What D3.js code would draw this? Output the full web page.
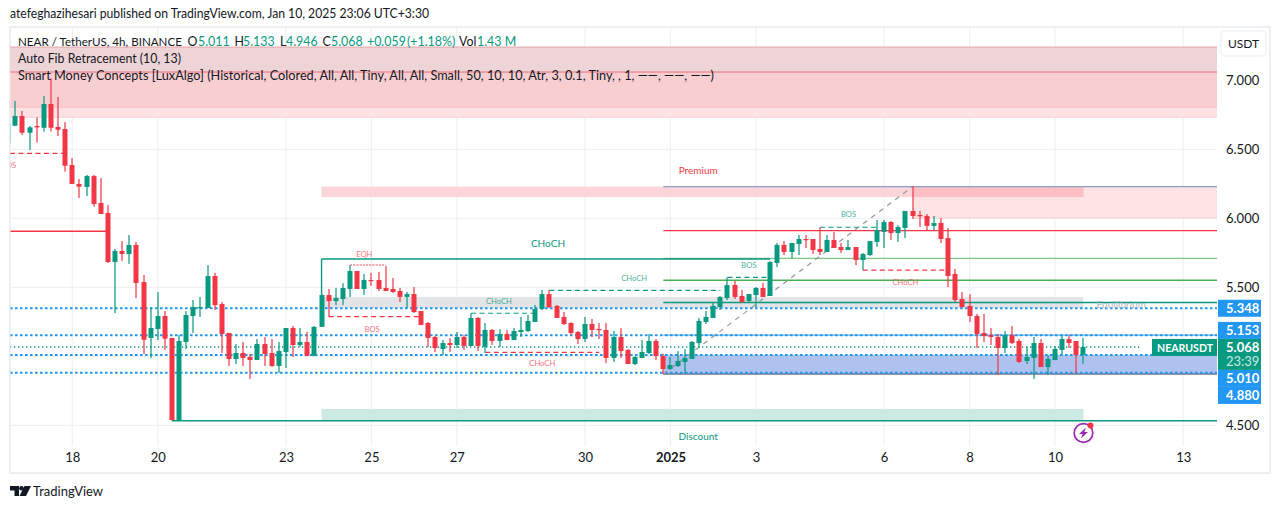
<!DOCTYPE html>
<html>
<head>
<meta charset="utf-8">
<title>NEARUSDT 4h</title>
<script src="https://cdn.jsdelivr.net/npm/d3@7"></script>
<style>
  html, body { margin: 0; padding: 0; background: #fff; }
  svg { display: block; }
  text { font-family: Lato, "Noto Sans", sans-serif; fill: #131722; }
  .domain { display: none; }
  .tick line { display: none; }
</style>
</head>
<body>
<div id="chart"></div>
<script>
// first candle in the arrays sits 9 bars before the 18 Dec tick
const firstBar = -9
const barOpen = [6.545, 6.671, 6.741, 6.62, 6.669, 6.656, 6.828, 6.662, 6.647,
  6.386, 6.249, 6.227, 6.306, 6.111, 6.038, 5.683, 5.763, 5.741, 5.807,
  5.538, 5.133, 5.198, 5.292, 5.133, 4.538, 5.104, 5.292, 5.35, 5.35,
  5.582, 5.379, 5.169, 4.98, 5.024, 4.995, 4.973, 5.089, 5.024, 4.93,
  5.031, 5.205, 5.082, 5.104, 5.004, 5.213, 5.444, 5.4, 5.415, 5.488,
  5.618, 5.488, 5.553, 5.553, 5.495, 5.488, 5.473, 5.43, 5.451, 5.328,
  5.241, 5.14, 5.053, 5.096, 5.082, 5.14, 5.075, 5.278, 5.068, 5.191,
  5.111, 5.162, 5.118, 5.176, 5.183, 5.249, 5.343, 5.451, 5.365, 5.285,
  5.241, 5.176, 5.125, 5.234, 5.198, 5.191, 4.988, 5.14, 5.046, 4.944,
  4.988, 5.024, 5.111, 5.002, 4.908, 4.93, 4.959, 4.981, 5.096, 5.249,
  5.278, 5.357, 5.422, 5.517, 5.437, 5.4, 5.444, 5.495, 5.437, 5.676,
  5.807, 5.756, 5.814, 5.85, 5.85, 5.778, 5.756, 5.843, 5.792, 5.77,
  5.792, 5.698, 5.734, 5.829, 5.901, 5.973, 5.893, 5.93, 6.053, 6.024,
  6.017, 5.945, 5.966, 5.857, 5.597, 5.415, 5.365, 5.292, 5.169, 5.154,
  5.14, 5.06, 5.154, 5.111, 4.966, 4.988, 5.096, 4.922, 4.973, 5.046,
  5.125, 5.111, 5.011]
const barHigh = [6.683, 6.85, 6.778, 6.669, 6.732, 6.886, 7.014, 6.879, 6.698,
  6.437, 6.285, 6.314, 6.314, 6.292, 6.096, 5.778, 5.835, 5.879, 5.828,
  5.589, 5.357, 5.466, 5.328, 5.133, 5.154, 5.328, 5.408, 5.43, 5.661,
  5.604, 5.393, 5.169, 5.089, 5.104, 5.017, 5.125, 5.14, 5.125, 5.104,
  5.205, 5.22, 5.205, 5.176, 5.22, 5.45, 5.488, 5.495, 5.53, 5.661,
  5.618, 5.596, 5.604, 5.611, 5.654, 5.567, 5.495, 5.466, 5.502, 5.328,
  5.248, 5.148, 5.118, 5.133, 5.176, 5.154, 5.312, 5.285, 5.241, 5.198,
  5.198, 5.191, 5.205, 5.285, 5.3, 5.372, 5.481, 5.481, 5.372, 5.321,
  5.248, 5.183, 5.285, 5.27, 5.241, 5.241, 5.183, 5.205, 5.053, 5.002,
  5.118, 5.162, 5.125, 5.02, 4.995, 5.038, 5.053, 5.111, 5.278, 5.328,
  5.386, 5.437, 5.572, 5.546, 5.481, 5.451, 5.502, 5.531, 5.69, 5.821,
  5.835, 5.821, 5.879, 5.879, 5.85, 5.935, 5.879, 5.9, 5.821, 5.843,
  5.792, 5.749, 5.835, 5.988, 5.988, 5.98, 5.951, 6.053, 6.234, 6.053,
  6.031, 6.017, 6.002, 5.93, 5.633, 5.466, 5.451, 5.307, 5.307, 5.205,
  5.162, 5.183, 5.22, 5.125, 5.067, 5.14, 5.125, 5.01, 5.075, 5.154,
  5.154, 5.111, 5.133]
const barLow = [6.545, 6.668, 6.604, 6.495, 6.548, 6.628, 6.628, 6.596, 6.338,
  6.249, 6.147, 6.162, 6.084, 6.031, 5.676, 5.314, 5.691, 5.67, 5.422,
  5.017, 4.988, 5.118, 5.046, 4.535, 4.535, 5.053, 5.169, 5.285, 5.35,
  5.336, 5.024, 4.93, 4.944, 4.93, 4.836, 4.973, 4.93, 4.922, 4.879,
  4.915, 4.995, 5.067, 5.0, 5.0, 5.213, 5.287, 5.371, 5.371, 5.43,
  5.488, 5.444, 5.51, 5.473, 5.473, 5.459, 5.393, 5.35, 5.314, 5.227,
  5.067, 5.031, 5.01, 5.031, 5.06, 5.046, 5.075, 5.038, 5.024, 5.082,
  5.067, 5.118, 5.118, 5.14, 5.176, 5.249, 5.336, 5.35, 5.278, 5.227,
  5.154, 5.089, 5.104, 5.14, 5.125, 4.951, 4.959, 4.988, 4.944, 4.937,
  4.988, 5.017, 4.973, 4.872, 4.901, 4.922, 4.879, 4.981, 5.06, 5.234,
  5.278, 5.336, 5.408, 5.415, 5.386, 5.393, 5.357, 5.43, 5.437, 5.647,
  5.734, 5.712, 5.734, 5.785, 5.741, 5.734, 5.756, 5.785, 5.749, 5.77,
  5.661, 5.626, 5.727, 5.792, 5.785, 5.843, 5.829, 5.857, 5.995, 5.937,
  5.915, 5.915, 5.821, 5.502, 5.393, 5.35, 5.249, 5.06, 5.104, 5.082,
  4.865, 5.024, 5.089, 4.951, 4.944, 4.836, 4.922, 4.865, 4.973, 5.01,
  5.06, 4.879, 4.946]
const barClose = [6.683, 6.741, 6.62, 6.659, 6.659, 6.828, 6.656, 6.642, 6.381,
  6.249, 6.229, 6.306, 6.104, 6.031, 5.683, 5.763, 5.741, 5.807, 5.531,
  5.12, 5.205, 5.292, 5.128, 4.538, 5.111, 5.299, 5.357, 5.357, 5.582,
  5.371, 5.162, 4.98, 5.024, 4.988, 4.973, 5.089, 5.017, 4.93, 5.038,
  5.205, 5.082, 5.104, 5.004, 5.213, 5.444, 5.4, 5.422, 5.495, 5.618,
  5.488, 5.553, 5.546, 5.488, 5.473, 5.466, 5.43, 5.451, 5.321, 5.227,
  5.133, 5.06, 5.096, 5.082, 5.14, 5.075, 5.278, 5.075, 5.191, 5.111,
  5.162, 5.118, 5.183, 5.191, 5.256, 5.343, 5.451, 5.357, 5.278, 5.234,
  5.169, 5.125, 5.234, 5.191, 5.191, 4.988, 5.14, 5.038, 4.944, 4.995,
  5.031, 5.111, 5.002, 4.908, 4.937, 4.966, 4.988, 5.104, 5.256, 5.285,
  5.365, 5.43, 5.517, 5.43, 5.393, 5.451, 5.495, 5.43, 5.683, 5.807,
  5.756, 5.821, 5.85, 5.843, 5.77, 5.756, 5.843, 5.785, 5.77, 5.792,
  5.698, 5.741, 5.835, 5.915, 5.973, 5.893, 5.937, 6.053, 6.017, 6.017,
  5.945, 5.966, 5.85, 5.582, 5.408, 5.357, 5.292, 5.162, 5.147, 5.14,
  5.06, 5.154, 5.096, 4.959, 4.995, 5.096, 4.922, 4.981, 5.053, 5.125,
  5.096, 5.01, 5.068]

// time axis, bar numbers of the day ticks
const tickBars = [0, 12, 30, 42, 54, 72, 84, 96, 114, 126, 138, 156]
const tickLabels = ['18', '20', '23', '25', '27', '30', '2025', '3', '6', '8', '10', '13']
// price axis
const priceTicks = [7, 6.5, 6, 5.5, 4.5]
const gridPrices = [7, 6.5, 6, 5.5, 5, 4.5]
const lastPrice = 5.068
const blueLevels = [5.348, 5.153, 5.01, 4.88]
const rightEnd = 160.75
const leftEnd = -8.75

// fib band at the top: bottom prices of the three layers
const topBandTop = 7.241
const topBandBottoms = [6.732, 6.806]
const topBandGrey = 7.06

// smart money boxes: bar from, bar to, price top, price bottom
const premiumBox = [35, 142, 6.23, 6.154]
const premiumDarkBox = [118, 142, 6.23, 6.154]
const premiumFibBox = [118, rightEnd, 6.23, 6.002]
const equilibriumBox = [35, 142, 5.43, 5.35]
const discountBox = [35, 142, 4.618, 4.538]
const discountFibBox = [83, rightEnd, 5.01, 4.872]

// solid lines: bar from, bar to, price
const redLines = [[leftEnd, 5, 5.906], [83, rightEnd, 5.91]]
const tealLines = [[35, 98, 5.705], [83, rightEnd, 5.39], [14, rightEnd, 4.533]]
const lightGreenLines = [[83, rightEnd, 5.709]]
const greenLines = [[83, rightEnd, 5.551]]
const premiumLine = [[83, rightEnd, 6.23]]
const discountLine = [[83, rightEnd, 4.872]]
const fibTopLine = [[leftEnd, rightEnd, 7.06]]
const chochRise = [35, 5.444, 5.705]
const diagonal = [83, 4.872, 118, 6.23]

// dashed structure lines
const redDashes = [[leftEnd, -1, 6.47], [36, 49, 5.288], [58, 74, 5.028], [111, 123, 5.625]]
const tealDashes = [[56, 65, 5.312], [67, 91, 5.478], [92, 98, 5.572], [105, 113, 5.935]]
const eqhDots = [[39, 44, 5.662]]

// labels: text, bar, price
const tealLabels = [['CHoCH', 78.9, 5.57], ['CHoCH', 59.9, 5.404], ['BOS', 95, 5.658], ['BOS', 109, 6.028]]
const redLabels = [['EQH', 41, 5.738], ['BOS', 42.1, 5.198], ['CHoCH', 66, 4.948], ['CHoCH', 117, 5.535], ['BOS', -8.95, 6.386]]
const zoneLabels = [['Premium', 87.9, 6.35], ['Discount', 87.9, 4.422], ['CHoCH', 66.8, 5.82], ['Equilibrium', 147.3, 5.379]]

const width = 1281
const height = 509
const plot = { left: 10, right: 1217, top: 28, bottom: 446 }
const red = '#f23645'
const green = '#089981'
const blue = '#2196f3'
const ink = '#131722'
const font = 13

const bars = barOpen.map((o, i) => ({
  bar: firstBar + i, o, h: barHigh[i], l: barLow[i], c: barClose[i]
}))

const x = d3.scaleLinear().domain([leftEnd, rightEnd]).range([plot.left, plot.right])
const y = d3.scaleLinear().domain([4.5, 7]).range([425.3, 80.3])

const svg = d3.select('#chart').append('svg').attr('width', width).attr('height', height)

svg.append('text').attr('x', 10).attr('y', 18).attr('font-size', 12.4)
  .attr('textLength', 419).attr('lengthAdjust', 'spacingAndGlyphs')
  .text('atefeghazihesari published on TradingView.com, Jan 10, 2025 23:06 UTC+3:30')

// outer frame
svg.append('rect').attr('x', 10).attr('y', 27).attr('width', 1260).attr('height', 446)
  .attr('fill', '#fff').attr('stroke', '#eeeff3').attr('stroke-width', 2)

svg.append('defs').append('clipPath').attr('id', 'plot-clip').append('rect')
  .attr('x', plot.left + 0.5).attr('y', plot.top)
  .attr('width', plot.right - plot.left - 0.5).attr('height', plot.bottom - plot.top)

const timeAxis = d3.axisBottom(x).tickValues(tickBars)
  .tickFormat((d, i) => tickLabels[i]).tickSize(0).tickPadding(0)
const axisG = svg.append('g').attr('transform', `translate(0, ${plot.bottom + 7})`).call(timeAxis)
axisG.selectAll('text').attr('font-size', font).attr('font-weight', d => d === 84 ? 'bold' : null)

const chart = svg.append('g').attr('clip-path', 'url(#plot-clip)')

// grid
chart.append('g').selectAll('line').data(tickBars).join('line')
  .attr('x1', d => x(d)).attr('x2', d => x(d))
  .attr('y1', plot.top).attr('y2', plot.bottom)
  .attr('stroke', '#f0f1f4').attr('stroke-width', 1.2)
chart.append('g').selectAll('line').data(gridPrices).join('line')
  .attr('x1', plot.left).attr('x2', plot.right)
  .attr('y1', d => y(d)).attr('y2', d => y(d))
  .attr('stroke', '#f0f1f4').attr('stroke-width', 1.2)

function drawBox(box, fill) {
  chart.append('rect')
    .attr('x', x(box[0])).attr('width', x(box[1]) - x(box[0]))
    .attr('y', y(box[2])).attr('height', y(box[3]) - y(box[2]))
    .attr('fill', fill)
}

function drawLines(rows, color, lineWidth, dash) {
  chart.append('g').selectAll('line').data(rows).join('line')
    .attr('x1', d => x(d[0])).attr('x2', d => x(d[1]))
    .attr('y1', d => y(d[2])).attr('y2', d => y(d[2]))
    .attr('stroke', color).attr('stroke-width', lineWidth)
    .attr('stroke-dasharray', dash || null)
}

// fib band at the top
drawBox([leftEnd, rightEnd, topBandTop, topBandBottoms[0]], '#fce2e3')
drawLines([[leftEnd, rightEnd, topBandBottoms[0]]], '#f9d2d5', 1)
drawBox([leftEnd, rightEnd, topBandTop, topBandBottoms[1]], '#f9ced1')
drawLines([[leftEnd, rightEnd, topBandBottoms[1]]], '#f5bcc0', 1)
drawBox([leftEnd, rightEnd, topBandTop, topBandGrey], '#eed4d6')
drawLines([[leftEnd, rightEnd, topBandTop]], '#e8a6ab', 1)
drawLines(fibTopLine, '#e9707c', 1)

// smart money zones
drawBox(premiumFibBox, '#fde3e3')
drawLines([[118, rightEnd, premiumFibBox[3]]], '#f9ced1', 1)
drawBox(premiumBox, '#fbd5d8')
drawBox(premiumDarkBox, '#fbbfc4')
drawBox(equilibriumBox, '#e3e4e7')
drawBox(discountBox, '#cce9e2')
drawBox(discountFibBox, '#aec2f0')

drawLines(premiumLine, '#8a9fc8', 1.3)
drawLines(lightGreenLines, '#81c784', 1.3)
drawLines(greenLines, '#4caf50', 1.3)
drawLines(redLines, red, 1.3)
drawLines(tealLines, green, 1.4)
drawLines(discountLine, '#6f7686', 1.6)
drawLines([[83, rightEnd, blueLevels[1]]], '#64b5f6', 1.2)
chart.append('line')
  .attr('x1', x(chochRise[0])).attr('x2', x(chochRise[0]))
  .attr('y1', y(chochRise[1])).attr('y2', y(chochRise[2]))
  .attr('stroke', green).attr('stroke-width', 1.4)

// price lines
drawLines(blueLevels.map(p => [leftEnd, rightEnd, p]), blue, 2, '2.6 2.4')
drawLines([[leftEnd, 150, lastPrice]], green, 1.5, '1.3 2.7')

// structure
drawLines(redDashes, red, 1.2, '5 3.5')
drawLines(tealDashes, green, 1.2, '5 3.5')
drawLines(eqhDots, '#f7a0a8', 2, '2 1.2')
chart.append('line')
  .attr('x1', x(diagonal[0])).attr('y1', y(diagonal[1]))
  .attr('x2', x(diagonal[2])).attr('y2', y(diagonal[3]))
  .attr('stroke', '#9598a1').attr('stroke-width', 1.2).attr('stroke-dasharray', '5 5')

// candles
const candle = chart.append('g').selectAll('g').data(bars).join('g')
  .attr('fill', d => d.c >= d.o ? green : red)
candle.append('rect')
  .attr('x', d => Math.round(x(d.bar)) - 0.6).attr('width', 1.2)
  .attr('y', d => y(d.h)).attr('height', d => y(d.l) - y(d.h))
candle.append('rect')
  .attr('x', d => Math.round(x(d.bar)) - 2.5).attr('width', 5)
  .attr('y', d => y(Math.max(d.o, d.c)))
  .attr('height', d => Math.max(1.2, Math.abs(y(d.o) - y(d.c))))

function drawLabels(rows, color, size, opacity) {
  chart.append('g').selectAll('text').data(rows).join('text')
    .attr('x', d => x(d[1])).attr('y', d => y(d[2]))
    .attr('text-anchor', 'middle').attr('dominant-baseline', 'central')
    .attr('font-size', size).style('fill', color).attr('opacity', opacity)
    .text(d => d[0])
}
drawLabels(tealLabels, green, 7.6, 0.75)
drawLabels(redLabels, red, 7.6, 0.7)
drawLabels(zoneLabels.slice(0, 1), red, 10, 1)
drawLabels(zoneLabels.slice(1, 3), green, 10, 1)
drawLabels(zoneLabels.slice(3), '#b2b5be', 10, 1)

// legend, first row is set piece by piece like the original
const legendParts = [
  ['NEAR / TetherUS, 4h, BINANCE', ink, 18, 11.6], ['O', ink, 187.5], ['5.011', green, 198], ['H', ink, 234.5], ['5.133', green, 243],
  ['L', ink, 280], ['4.946', green, 286], ['C', ink, 322.5], ['5.068', green, 331],
  ['+0.059', green, 367], ['(+1.18%)', green, 407], ['Vol', ink, 459], ['1.43 M', green, 477]
]
const legendRows = [
  ['Auto Fib Retracement (10, 13)', 163],
  ['Smart Money Concepts [LuxAlgo] (Historical, Colored, All, All, Tiny, All, All, Small, 50, 10, 10, Atr, 3, 0.1, Tiny, , 1, \u2014\u2014, \u2014\u2014, \u2014\u2014)', 696]
]
const legendG = svg.append('g').attr('font-size', 12.4)
legendG.selectAll('text.part').data(legendParts).join('text').attr('class', 'part')
  .attr('x', d => d[2]).attr('y', 46).style('fill', d => d[1])
  .attr('font-size', d => d[3] || null)
  .text(d => d[0])
legendG.selectAll('text.row').data(legendRows).join('text').attr('class', 'row')
  .attr('x', 18).attr('y', (d, i) => 63 + i * 17)
  .attr('textLength', d => d[1]).attr('lengthAdjust', 'spacingAndGlyphs')
  .text(d => d[0])

// price axis
const priceAxis = d3.axisRight(y).tickValues(priceTicks).tickFormat(d3.format('.3f')).tickSize(0).tickPadding(0)
const priceG = svg.append('g').attr('transform', `translate(1226, 0)`).call(priceAxis)
priceG.selectAll('text').attr('font-size', font)

svg.append('rect').attr('x', 1221).attr('y', 31).attr('width', 45).attr('height', 25).attr('rx', 4)
  .attr('fill', '#fff').attr('stroke', '#f0f3fa').attr('stroke-width', 1.6)
svg.append('text').attr('x', 1243.5).attr('y', 48).attr('text-anchor', 'middle')
  .attr('font-size', 12).text('USDT')

// last value badges, stacked the way the price scale pushes them apart
const badgeH = 17
const lastTop = y(lastPrice) - 8
const lastH = 31
const badgeTops = new Map()
let edgeUp = lastTop
blueLevels.filter(p => p > lastPrice).reverse().forEach(p => {
  const top = Math.min(y(p) - badgeH / 2, edgeUp - badgeH)
  badgeTops.set(p, top)
  edgeUp = top
})
let edgeDown = lastTop + lastH
blueLevels.filter(p => p < lastPrice).forEach(p => {
  const top = Math.max(y(p) - badgeH / 2, edgeDown)
  badgeTops.set(p, top)
  edgeDown = top + badgeH
})
svg.append('g').selectAll('rect').data(blueLevels).join('rect')
  .attr('x', 1218).attr('width', 43)
  .attr('y', d => badgeTops.get(d)).attr('height', badgeH)
  .attr('fill', blue)
svg.append('rect').attr('x', 1152).attr('width', 65).attr('y', lastTop).attr('height', badgeH).attr('fill', green)
svg.append('rect').attr('x', 1218).attr('width', 43).attr('y', lastTop).attr('height', lastH).attr('fill', green)
svg.append('g').selectAll('text').data(blueLevels).join('text')
  .attr('x', 1226).attr('y', d => badgeTops.get(d) + 13).attr('font-size', font).attr('font-weight', 700)
  .style('fill', '#fff').text(d3.format('.3f'))
svg.append('text').attr('x', 1157).attr('y', lastTop + 13)
  .attr('font-size', 12).attr('font-weight', 700).style('fill', '#fff')
  .attr('textLength', 56).attr('lengthAdjust', 'spacingAndGlyphs').text('NEARUSDT')
svg.append('text').attr('x', 1226).attr('y', lastTop + 13).attr('font-size', font).attr('font-weight', 700)
  .style('fill', '#fff').text(d3.format('.3f')(lastPrice))
svg.append('text').attr('x', 1226).attr('y', lastTop + 27).attr('font-size', font)
  .style('fill', '#c8ebe4').text('23:39')

// alert icon
const icon = svg.append('g').attr('transform', `translate(${x(142)}, 433)`)
icon.append('circle').attr('r', 9.3).attr('fill', '#fff').attr('stroke', '#9c27b0').attr('stroke-width', 1.7)
icon.append('path').attr('d', 'M2.5 -5.5 L-4.5 1 L-0.8 1 L-2.5 5.5 L4.5 -1 L0.8 -1 Z').attr('fill', '#9c27b0')
icon.append('circle').attr('cx', 7).attr('cy', -7.5).attr('r', 3).attr('fill', red)

// logo
const logo = svg.append('g').attr('transform', 'translate(10, 486)').attr('fill', ink)
logo.append('path').attr('d', 'M0 0 H9 V10 H4.5 V4.5 H0 Z')
logo.append('circle').attr('cx', 11.5).attr('cy', 2.3).attr('r', 2.3)
logo.append('path').attr('d', 'M14.5 0 H21 L16 10 H9.5 Z')
svg.append('text').attr('x', 33).attr('y', 496).attr('font-size', 14)
  .attr('textLength', 70).attr('lengthAdjust', 'spacingAndGlyphs').text('TradingView')
</script>
</body>
</html>
